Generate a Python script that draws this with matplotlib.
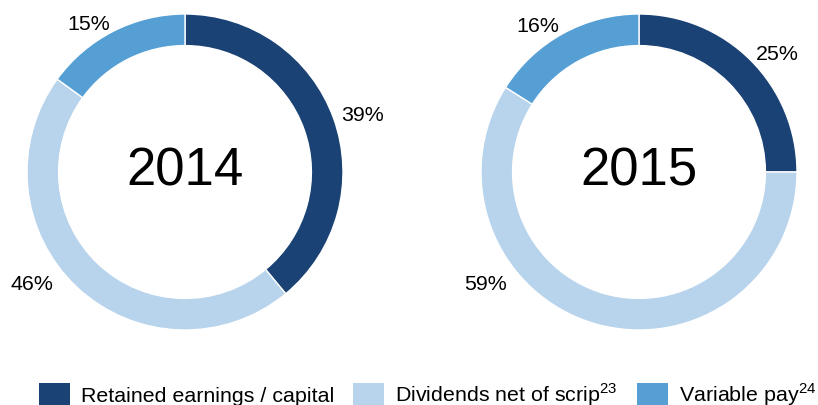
import matplotlib
matplotlib.use("Agg")
import matplotlib.pyplot as plt
from matplotlib.patches import Patch
import numpy as np

plt.rcParams['font.family'] = ['Liberation Sans', 'DejaVu Sans']
plt.rcParams['mathtext.fontset'] = 'custom'
plt.rcParams['mathtext.rm'] = 'Liberation Sans'

years = ["2014", "2015"]
categories = ["Retained earnings / capital", "Dividends net of scrip$^{23}$", "Variable pay$^{24}$"]
values_2014 = [39, 46, 15]
values_2015 = [25, 59, 16]
colors = ["#1b4274", "#b8d3ec", "#559fd4"]

W, H = 818, 405
fig = plt.figure(figsize=(W / 100, H / 100), dpi=100)

# donut placement in pixels: (center x, center y from top, outer radius)
placements = [(185, 172, 158), (639, 172, 158)]
label_r = 1.05
# dividends label sits in the lower-left at a fixed spot
div_label_angle = 220.4
div_label_r = 1.097

for (cx, cy, r), year, vals in zip(placements, years, [values_2014, values_2015]):
    ax = fig.add_axes([(cx - r) / W, (H - cy - r) / H, 2 * r / W, 2 * r / H])
    wedges, _ = ax.pie(vals, colors=colors, startangle=90, counterclock=False,
                       radius=1, wedgeprops=dict(width=0.2, edgecolor='white', linewidth=1))
    ax.set_xlim(-1, 1)
    ax.set_ylim(-1, 1)
    ax.set_aspect('equal')
    ax.axis('off')
    for i, (w, v) in enumerate(zip(wedges, vals)):
        if i == 1:
            ang, rr = div_label_angle, div_label_r
        else:
            ang, rr = (w.theta1 + w.theta2) / 2, label_r
        x = rr * np.cos(np.deg2rad(ang))
        y = rr * np.sin(np.deg2rad(ang))
        ha = 'left' if x > 0 else 'right'
        ax.text(x, y, f"{v}%", ha=ha, va='center', fontsize=15.4, clip_on=False)
    ax.text(0, 0, year, ha='center', va='center', fontsize=38)

handles = [Patch(facecolor=c, edgecolor='none') for c in colors]
fig.legend(handles, categories, loc='center', bbox_to_anchor=(0.5226, 0.025), ncol=3,
           frameon=False, fontsize=15.4, handlelength=1.45, handleheight=1.35,
           handletextpad=0.5, columnspacing=0.9, borderpad=0, borderaxespad=0)

fig.savefig("out.png", dpi=100)
